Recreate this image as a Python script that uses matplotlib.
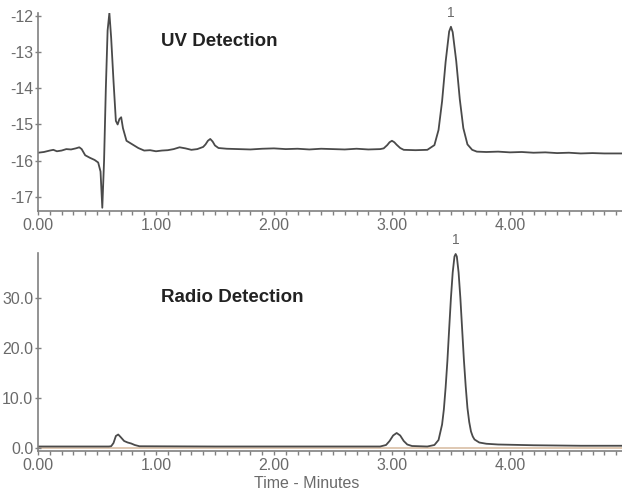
import matplotlib.pyplot as plt
from matplotlib.ticker import MultipleLocator, FormatStrFormatter

plt.rcParams['font.family'] = ['Liberation Sans', 'DejaVu Sans']
plt.rcParams['axes.unicode_minus'] = False

# UV trace (minutes, signal)
uv_time = [0.00, 0.05, 0.10, 0.13, 0.16, 0.20, 0.24, 0.28, 0.32, 0.35, 0.37, 0.40, 0.44, 0.48,
           0.51, 0.53, 0.545, 0.56, 0.575, 0.59, 0.605, 0.62, 0.64, 0.66, 0.675, 0.69, 0.705,
           0.72, 0.75, 0.80, 0.85, 0.90, 0.95, 1.00, 1.05, 1.10, 1.15, 1.20, 1.25, 1.30, 1.35,
           1.40, 1.42, 1.44, 1.46, 1.48, 1.50, 1.53, 1.60, 1.70, 1.80, 1.90, 2.00, 2.10, 2.20,
           2.30, 2.40, 2.50, 2.60, 2.70, 2.80, 2.90, 2.93, 2.96, 2.98, 3.00, 3.02, 3.04, 3.07,
           3.10, 3.20, 3.30, 3.36, 3.395, 3.425, 3.455, 3.485, 3.50, 3.515, 3.545, 3.575,
           3.605, 3.64, 3.68, 3.72, 3.80, 3.90, 4.00, 4.10, 4.20, 4.30, 4.40, 4.50, 4.60,
           4.70, 4.80, 4.95]
uv_signal = [-15.78, -15.76, -15.72, -15.70, -15.74, -15.72, -15.68, -15.69, -15.66, -15.63,
             -15.68, -15.85, -15.92, -15.98, -16.05, -16.30, -17.30, -16.00, -14.00, -12.40,
             -11.92, -12.60, -13.80, -14.90, -15.00, -14.85, -14.80, -15.10, -15.45, -15.55,
             -15.65, -15.72, -15.71, -15.74, -15.72, -15.71, -15.68, -15.63, -15.66, -15.70,
             -15.68, -15.62, -15.55, -15.45, -15.40, -15.47, -15.58, -15.65, -15.67, -15.68,
             -15.69, -15.67, -15.66, -15.68, -15.67, -15.69, -15.67, -15.68, -15.69, -15.67,
             -15.69, -15.68, -15.66, -15.57, -15.49, -15.45, -15.49, -15.56, -15.65, -15.70,
             -15.71, -15.70, -15.57, -15.15, -14.36, -13.27, -12.43, -12.30, -12.45, -13.25,
             -14.30, -15.10, -15.55, -15.70, -15.75, -15.76, -15.75, -15.77, -15.76, -15.78,
             -15.77, -15.79, -15.78, -15.80, -15.79, -15.80, -15.80]

# radio trace (minutes, signal)
radio_time = [0.00, 0.30, 0.60, 0.62, 0.64, 0.66, 0.68, 0.70, 0.73, 0.76, 0.79, 0.82, 0.86,
              1.50, 2.50, 2.90, 2.95, 2.98, 3.01, 3.04, 3.07, 3.10, 3.13, 3.17, 3.30, 3.36,
              3.395, 3.425, 3.44, 3.455, 3.47, 3.485, 3.50, 3.515, 3.53, 3.54, 3.55, 3.565,
              3.58, 3.595, 3.61, 3.625, 3.64, 3.655, 3.67, 3.685, 3.70, 3.74, 3.80, 3.90,
              4.20, 4.60, 4.95]
radio_signal = [0.3, 0.3, 0.3, 0.35, 1.0, 2.4, 2.7, 2.2, 1.4, 1.1, 0.9, 0.6, 0.35,
                0.3, 0.3, 0.3, 0.6, 1.4, 2.5, 3.0, 2.5, 1.4, 0.7, 0.4, 0.3, 0.6,
                1.6, 4.7, 7.7, 12.1, 17.4, 23.8, 30.0, 35.1, 38.3, 38.8, 38.3, 35.1,
                30.0, 23.8, 17.6, 12.4, 8.0, 5.2, 3.3, 2.3, 1.7, 1.1, 0.85, 0.7,
                0.55, 0.45, 0.45]

peak_time_uv = 3.50
peak_time_radio = 3.54

line_c = '#4a4a4a'
axis_c = '#808080'
text_c = '#6a6a6a'

fig = plt.figure(figsize=(6.22, 4.93), dpi=100)
ax1 = fig.add_axes([38 / 622, 1 - 211 / 493, 584 / 622, 198 / 493])
ax2 = fig.add_axes([38 / 622, 1 - 451 / 493, 584 / 622, 198 / 493])

for ax in (ax1, ax2):
    for s in ('top', 'right'):
        ax.spines[s].set_visible(False)
    for s in ('left', 'bottom'):
        ax.spines[s].set_color(axis_c)
        ax.spines[s].set_linewidth(1.2)
    ax.set_xlim(0, 4.95)
    ax.xaxis.set_major_locator(MultipleLocator(1.0))
    ax.xaxis.set_minor_locator(MultipleLocator(0.1))
    ax.xaxis.set_major_formatter(FormatStrFormatter('%.2f'))
    ax.tick_params(axis='x', which='both', direction='out', length=3, width=1,
                   color=axis_c, labelcolor=text_c, labelsize=11.5, pad=2)
    ax.tick_params(axis='y', which='both', direction='inout', length=5, width=1,
                   color=axis_c, labelcolor=text_c, labelsize=11.5, pad=1)

ax1.plot(uv_time, uv_signal, color=line_c, lw=1.3)
ax1.set_ylim(-17.39, -11.92)
ax1.set_yticks([-12, -13, -14, -15, -16, -17])
ax1.text(1.04, -12.72, 'UV Detection', fontsize=13.5, fontweight='bold', color='#222222',
         va='center', ha='left')
ax1.text(peak_time_uv, -11.92, '1', fontsize=10, color=text_c, ha='center', va='center',
         clip_on=False)

ax2.axhline(0, color='#d9bfa6', lw=1.2, zorder=1)
ax2.plot(radio_time, radio_signal, color=line_c, lw=1.3, zorder=2)
ax2.set_ylim(-0.6, 39.0)
ax2.set_yticks([0, 10, 20, 30])
ax2.yaxis.set_major_formatter(FormatStrFormatter('%.1f'))
ax2.text(1.04, 30.2, 'Radio Detection', fontsize=13.5, fontweight='bold', color='#222222',
         va='center', ha='left')
ax2.text(peak_time_radio, 41.5, '1', fontsize=10, color=text_c, ha='center', va='center',
         clip_on=False)
ax2.set_xlabel('Time - Minutes', fontsize=11.5, color=text_c)
ax2.xaxis.set_label_coords(269 / 584, -0.125)

fig.savefig('out.png', dpi=100)
